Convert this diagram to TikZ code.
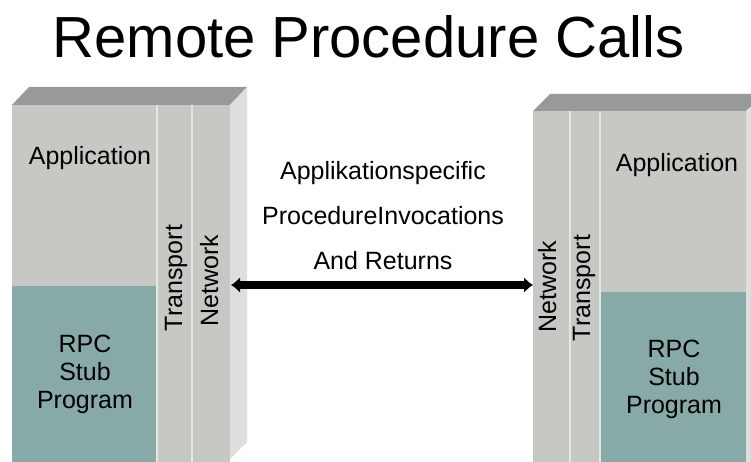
\documentclass[tikz,border=0pt]{standalone}
\usepackage{fontspec}
\setmainfont{Liberation Sans}
\usetikzlibrary{arrows.meta}
\definecolor{frontgray}{RGB}{198,200,196}
\definecolor{stubteal}{RGB}{135,170,168}
\definecolor{topgray}{RGB}{152,154,154}
\definecolor{sidegray}{RGB}{222,222,222}
\definecolor{divline}{RGB}{228,230,228}
\tikzset{
  front/.style={fill=frontgray},
  stub/.style={fill=stubteal},
  topface/.style={fill=topgray},
  sideface/.style={fill=sidegray},
  divider/.style={draw=divline, line width=1.5pt},
  lbl/.style={font=\fontsize{25}{28}\selectfont, inner sep=0pt, anchor=base},
  vlbl/.style={lbl, rotate=90},
  ttl/.style={font=\fontsize{58}{64}\selectfont, inner sep=0pt, anchor=base},
  link/.style={line width=8pt, {Latex[length=9pt,width=16pt]}-{Latex[length=9pt,width=16pt]}}
}
\begin{document}
\begin{tikzpicture}[x=1pt,y=-1pt]
\useasboundingbox (0,0) rectangle (751,462);
\fill[white] (0,0) rectangle (751,462);
\clip (0,0) rectangle (751,462);
% title
\node[ttl] (title) at (368.5,58) {Remote Procedure Calls};
% ---- left block
\fill[topface] (12,105) -- (29,87) -- (247,87) -- (230,105) -- cycle;
\fill[sideface] (230,105) -- (247,87) -- (247,442) -- (230,459) -- cycle;
\fill[front] (12,105) rectangle (230,462);
\fill[stub] (12,286) rectangle (157,462);
\draw[divider] (157,105) -- (157,462);
\draw[divider] (192,105) -- (192,462);
\node[lbl] (lapp) at (90,165) {Application};
\node[lbl] (lrpc) at (85,352) {RPC};
\node[lbl] (lstub) at (85,380) {Stub};
\node[lbl] (lprog) at (85,408) {Program};
\node[vlbl] (ltrans) at (182,278) {Transport};
\node[vlbl] (lnet) at (218,281) {Network};
% ---- right block
\fill[topface] (533,111) -- (550,94) -- (765,94) -- (746,111) -- cycle;
\fill[sideface] (746,111) -- (765,94) -- (765,462) -- (746,462) -- cycle;
\fill[front] (533,111) rectangle (746,462);
\fill[stub] (600,292) rectangle (746,462);
\draw[divider] (570,111) -- (570,462);
\draw[divider] (600,111) -- (600,462);
\node[lbl] (rapp) at (677,172) {Application};
\node[lbl] (rrpc) at (674,357) {RPC};
\node[lbl] (rstub) at (674,385) {Stub};
\node[lbl] (rprog) at (674,413) {Program};
\node[vlbl] (rnet) at (556,287) {Network};
\node[vlbl] (rtrans) at (590,288) {Transport};
% ---- middle text
\node[lbl] (m1) at (383,180) {Applikationspecific};
\node[lbl] (m2) at (383,224) {ProcedureInvocations};
\node[lbl] (m3) at (383,269) {And Returns};
% ---- arrow
\coordinate (la) at (231,285);
\coordinate (ra) at (533,285);
\draw[link] (la) -- (ra);
\end{tikzpicture}
\end{document}
